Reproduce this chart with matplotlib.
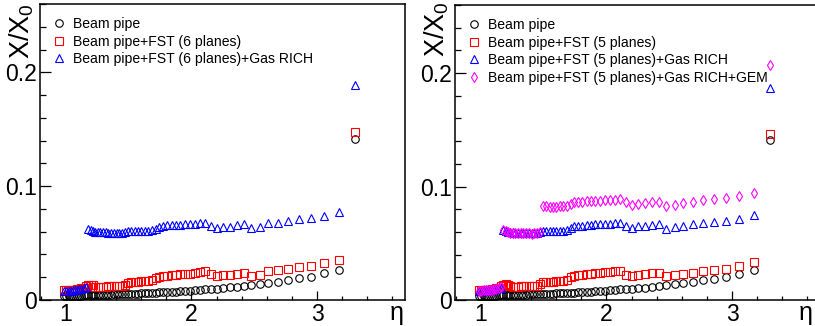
import matplotlib
matplotlib.use("Agg")
import matplotlib.pyplot as plt
from matplotlib.ticker import MultipleLocator

plt.rcParams['font.family'] = ['Liberation Sans', 'DejaVu Sans']
plt.rcParams['mathtext.fontset'] = 'custom'
plt.rcParams['mathtext.rm'] = 'Liberation Sans'

# pseudorapidity of each scan point
eta = [0.989, 1.005, 1.022, 1.038, 1.055, 1.072, 1.089, 1.107, 1.124, 1.142,
       1.160, 1.179, 1.198, 1.217, 1.236, 1.256, 1.276, 1.296, 1.317, 1.338,
       1.360, 1.382, 1.404, 1.427, 1.450, 1.474, 1.498, 1.523, 1.549, 1.575,
       1.601, 1.629, 1.657, 1.686, 1.715, 1.746, 1.777, 1.809, 1.843, 1.877,
       1.913, 1.950, 1.988, 2.028, 2.069, 2.112, 2.157, 2.204, 2.253, 2.304,
       2.359, 2.416, 2.477, 2.542, 2.611, 2.686, 2.766, 2.853, 2.949, 3.054,
       3.172, 3.306]

# X/X0, beam pipe only (same in both panels)
pipe = [0.0035, 0.0036, 0.0036, 0.0037, 0.0037, 0.0038, 0.0038, 0.0039, 0.0039, 0.0040,
        0.0041, 0.0041, 0.0042, 0.0043, 0.0043, 0.0044, 0.0045, 0.0045, 0.0046, 0.0047,
        0.0048, 0.0049, 0.0050, 0.0051, 0.0052, 0.0053, 0.0054, 0.0055, 0.0056, 0.0057,
        0.0058, 0.0060, 0.0061, 0.0063, 0.0064, 0.0066, 0.0068, 0.0069, 0.0071, 0.0073,
        0.0076, 0.0079, 0.0082, 0.0086, 0.0089, 0.0093, 0.0097, 0.0101, 0.0105, 0.0110,
        0.0116, 0.0122, 0.0131, 0.0141, 0.0152, 0.0162, 0.0176, 0.0189, 0.0206, 0.0233,
        0.0261, 0.141]

# left panel: FST with 6 planes
fst6 = [0.0085, 0.0087, 0.0088, 0.0089, 0.0090, 0.0092, 0.0094, 0.0098, 0.0102, 0.0108,
        0.0122, 0.0132, 0.0135, 0.0128, 0.0118, 0.0117, 0.0117, 0.0118, 0.0118, 0.0119,
        0.0120, 0.0121, 0.0122, 0.0123, 0.0125, 0.0135, 0.0152, 0.0158, 0.0160, 0.0162,
        0.0163, 0.0165, 0.0168, 0.0172, 0.0192, 0.0205, 0.0210, 0.0213, 0.0216, 0.0220,
        0.0224, 0.0228, 0.0232, 0.0238, 0.0250, 0.0255, 0.0228, 0.0212, 0.0218, 0.0222,
        0.0229, 0.0240, 0.0211, 0.0220, 0.0252, 0.0264, 0.0276, 0.0293, 0.0299, 0.0323,
        0.0352, 0.148]

rich6 = [0.0078, 0.0080, 0.0082, 0.0083, 0.0085, 0.0087, 0.0089, 0.0093, 0.0098, 0.0104,
         0.0110, 0.0625, 0.0615, 0.0605, 0.0600, 0.0598, 0.0597, 0.0596, 0.0594, 0.0592,
         0.0590, 0.0588, 0.0587, 0.0588, 0.0590, 0.0598, 0.0608, 0.0610, 0.0610, 0.0610,
         0.0610, 0.0610, 0.0610, 0.0612, 0.0625, 0.0640, 0.0650, 0.0655, 0.0658, 0.0660,
         0.0662, 0.0664, 0.0666, 0.0668, 0.0672, 0.0675, 0.0650, 0.0635, 0.0645, 0.0645,
         0.0660, 0.0666, 0.0630, 0.0645, 0.0675, 0.0680, 0.0690, 0.0710, 0.0716, 0.0742,
         0.0769, 0.189]

# right panel: FST with 5 planes
fst5 = [0.0085, 0.0087, 0.0088, 0.0089, 0.0090, 0.0092, 0.0094, 0.0098, 0.0102, 0.0108,
        0.0122, 0.0135, 0.0145, 0.0135, 0.0120, 0.0118, 0.0118, 0.0118, 0.0119, 0.0119,
        0.0120, 0.0121, 0.0122, 0.0123, 0.0125, 0.0138, 0.0155, 0.0160, 0.0162, 0.0163,
        0.0164, 0.0166, 0.0168, 0.0175, 0.0200, 0.0215, 0.0220, 0.0224, 0.0228, 0.0232,
        0.0236, 0.0240, 0.0244, 0.0248, 0.0256, 0.0260, 0.0216, 0.0213, 0.0224, 0.0230,
        0.0236, 0.0238, 0.0212, 0.0222, 0.0232, 0.0240, 0.0255, 0.0267, 0.0276, 0.0302,
        0.0334, 0.146]

rich5 = [0.0078, 0.0080, 0.0082, 0.0083, 0.0085, 0.0087, 0.0089, 0.0093, 0.0098, 0.0104,
         0.0110, 0.0620, 0.0610, 0.0602, 0.0598, 0.0595, 0.0594, 0.0593, 0.0592, 0.0591,
         0.0590, 0.0589, 0.0588, 0.0589, 0.0591, 0.0600, 0.0608, 0.0610, 0.0610, 0.0610,
         0.0610, 0.0610, 0.0610, 0.0615, 0.0635, 0.0648, 0.0653, 0.0656, 0.0660, 0.0663,
         0.0666, 0.0668, 0.0670, 0.0672, 0.0676, 0.0678, 0.0650, 0.0634, 0.0648, 0.0650,
         0.0660, 0.0667, 0.0630, 0.0643, 0.0650, 0.0667, 0.0675, 0.0687, 0.0695, 0.0716,
         0.0748, 0.187]

gem5 = [0.0080, 0.0082, 0.0084, 0.0085, 0.0087, 0.0089, 0.0091, 0.0095, 0.0100, 0.0106,
        0.0112, 0.0615, 0.0605, 0.0598, 0.0594, 0.0592, 0.0591, 0.0590, 0.0589, 0.0588,
        0.0588, 0.0587, 0.0586, 0.0587, 0.0590, 0.0597, 0.0825, 0.0825, 0.0823, 0.0823,
        0.0823, 0.0825, 0.0825, 0.0830, 0.0850, 0.0862, 0.0866, 0.0868, 0.0870, 0.0872,
        0.0874, 0.0876, 0.0878, 0.0880, 0.0885, 0.0888, 0.0860, 0.0839, 0.0848, 0.0854,
        0.0860, 0.0863, 0.0830, 0.0840, 0.0854, 0.0863, 0.0878, 0.0890, 0.0897, 0.0918,
        0.0947, 0.2075]

labels_left = ["Beam pipe", "Beam pipe+FST (6 planes)",
               "Beam pipe+FST (6 planes)+Gas RICH"]
labels_right = ["Beam pipe", "Beam pipe+FST (5 planes)",
                "Beam pipe+FST (5 planes)+Gas RICH",
                "Beam pipe+FST (5 planes)+Gas RICH+GEM"]

W, H = 815, 326
fig = plt.figure(figsize=(W / 100, H / 100), dpi=100)
ax1 = fig.add_axes([40 / W, 26 / H, 365 / W, 296 / H])
ax2 = fig.add_axes([455 / W, 26 / H, 365 / W, 295 / H])


def style_axis(ax):
    ax.set_xlim(0.795, 3.7)
    ax.set_ylim(0, 0.26)
    ax.set_xticks([1, 2, 3], ['1', '2', '3'])
    ax.set_yticks([0, 0.1, 0.2], ['0', '0.1', '0.2'])
    ax.xaxis.set_minor_locator(MultipleLocator(0.2))
    ax.yaxis.set_minor_locator(MultipleLocator(0.02))
    ax.tick_params(which='both', direction='in', top=False, right=False,
                   labelsize=16.5, width=0.9, color='black')
    ax.tick_params(axis='y', which='major', length=8, pad=2)
    ax.tick_params(axis='y', which='minor', length=4)
    ax.tick_params(axis='x', which='major', length=6.4, pad=2.5)
    ax.tick_params(axis='x', which='minor', length=3.2)
    for s in ax.spines.values():
        s.set_linewidth(1.1)


mk = dict(ls='none', mfc='none', mew=0.8)

ax1.plot(eta, pipe, marker='o', ms=5.4, mec='black', label=labels_left[0], **mk)
ax1.plot(eta, fst6, marker='s', ms=5.6, mec='red', label=labels_left[1], **mk)
ax1.plot(eta, rich6, marker='^', ms=6.4, mec='blue', label=labels_left[2], **mk)

ax2.plot(eta, pipe, marker='o', ms=5.4, mec='black', label=labels_right[0], **mk)
ax2.plot(eta, fst5, marker='s', ms=5.6, mec='red', label=labels_right[1], **mk)
ax2.plot(eta, rich5, marker='^', ms=6.4, mec='blue', label=labels_right[2], **mk)
ax2.plot(eta, gem5, marker='d', ms=5.4, mec='magenta', label=labels_right[3], **mk)

for ax in (ax1, ax2):
    style_axis(ax)
    ax.legend(loc='upper left', bbox_to_anchor=(0.034, 0.955), frameon=False,
              fontsize=10.1, handlelength=1.0, handletextpad=0.45,
              labelspacing=0.25, borderpad=0, borderaxespad=0, numpoints=1)

# axis titles, ROOT style
fig.text(22 / W, 1 - 3 / H, 'X/X$_0$', rotation=90, ha='center', va='top', fontsize=19.5)
fig.text(437 / W, 1 - 1 / H, 'X/X$_0$', rotation=90, ha='center', va='top', fontsize=19.5)
fig.text(397 / W, 1 / H, 'η', ha='center', va='bottom', fontsize=18)
fig.text(806 / W, 1 / H, 'η', ha='center', va='bottom', fontsize=18)

fig.savefig('out.png', dpi=100)
